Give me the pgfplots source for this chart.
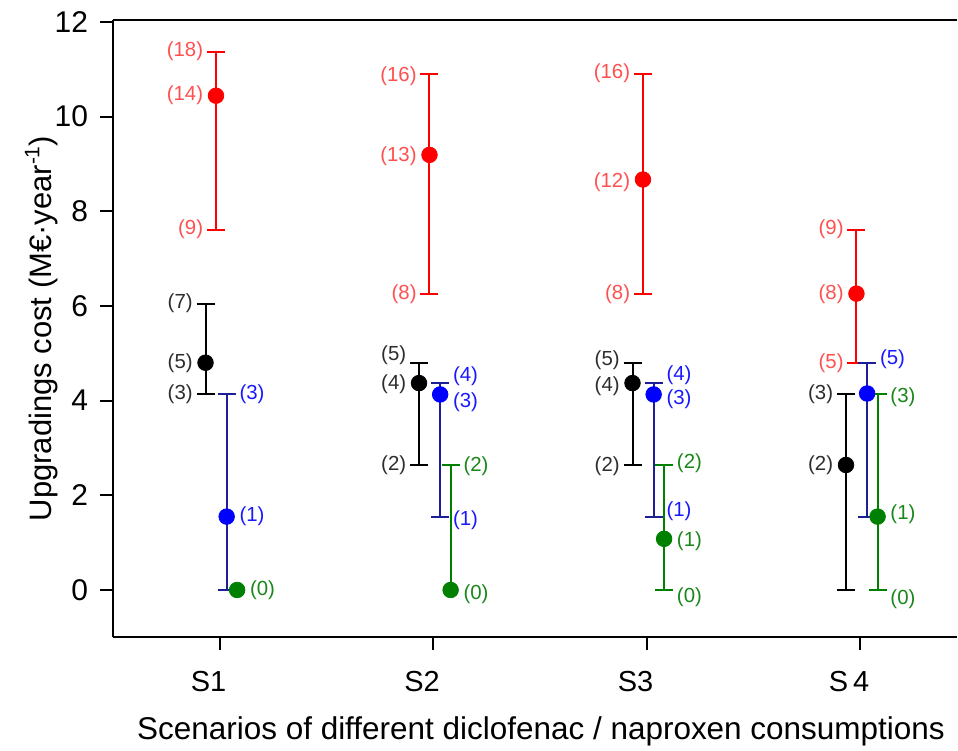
\documentclass[border=0pt]{standalone}
\usepackage{pgfplots}
\pgfplotsset{compat=1.18}
\usepackage{pgfplotstable}
\usepackage{fontspec}
\setmainfont{Liberation Sans}
\definecolor{cRed}{RGB}{255,0,0}
\definecolor{cRedL}{RGB}{255,80,80}
\definecolor{cBlk}{RGB}{0,0,0}
\definecolor{cBlkL}{RGB}{45,45,45}
\definecolor{cBlu}{RGB}{0,0,255}
\definecolor{cBluBar}{RGB}{30,30,150}
\definecolor{cBluL}{RGB}{25,25,255}
\definecolor{cGrn}{RGB}{0,128,0}
\definecolor{cGrnL}{RGB}{25,135,25}

\pgfplotstableread{
x y ep em
0.934 4.80 1.25 0.67
1.934 4.37 0.42 1.73
2.934 4.37 0.42 1.73
3.934 2.64 1.49 2.64
}\blackdata
\pgfplotstableread{
x y ep em
0.983 10.44 0.93 2.83
1.983 9.19 1.71 2.94
2.983 8.67 2.23 2.42
3.983 6.26 1.35 1.46
}\reddata
\pgfplotstableread{
x y ep em
1.033 1.55 2.58 1.55
2.033 4.13 0.24 2.58
3.033 4.13 0.24 2.58
4.033 4.15 0.65 2.60
}\bluedata
\pgfplotstableread{
x y ep em
3.082 1.08 1.56 1.08
4.082 1.55 2.58 1.55
}\greendata
\pgfplotstableread{
x y ep
2.082 0.00 2.64
}\greenplus
\pgfplotstableread{
x y
1.082 0.00
}\greenonly

\pgfplotstableread{
x y t
0.934 6.05 (7)
0.934 4.80 (5)
0.934 4.13 (3)
1.934 4.96 (5)
1.934 4.35 (4)
1.934 2.64 (2)
2.934 4.86 (5)
2.934 4.30 (4)
2.934 2.62 (2)
3.934 4.13 (3)
3.934 2.64 (2)
}\blacklab
\pgfplotstableread{
x y t
0.983 11.37 (18)
0.983 10.44 (14)
0.983 7.61 (9)
1.983 10.85 (16)
1.983 9.17 (13)
1.983 6.25 (8)
2.983 10.92 (16)
2.983 8.62 (12)
2.983 6.25 (8)
3.983 7.61 (9)
3.983 6.24 (8)
3.983 4.78 (5)
}\redlab
\pgfplotstableread{
x y t
1.033 4.13 (3)
1.033 1.55 (1)
2.033 4.52 (4)
2.033 3.97 (3)
2.033 1.48 (1)
3.033 4.53 (4)
3.033 4.02 (3)
3.033 1.67 (1)
4.033 4.88 (5)
}\bluelab
\pgfplotstableread{
x y t
1.082 0.00 (0)
2.082 2.62 (2)
2.082 -0.08 (0)
3.082 2.67 (2)
3.082 1.03 (1)
3.082 -0.15 (0)
4.082 4.07 (3)
4.082 1.60 (1)
4.082 -0.19 (0)
}\greenlab

\begin{document}
\begin{tikzpicture}
\begin{axis}[
  scale only axis, width=422.5pt, height=309pt,
  xmin=0.5, xmax=4.454, ymin=-1, ymax=12.04,
  axis x line*=box, axis y line*=left,
  xtick={1,2,3,4}, xticklabels={S1,S2,S3,S\,4},
  ytick={0,2,4,6,8,10,12},
  xtick pos=bottom, ytick pos=left,
  tick align=outside, major tick length=6.5pt,
  every tick/.style={black, line width=1pt},
  axis line style={line width=1pt},
  /pgf/number format/assume math mode=true,
  yticklabel style={font=\fontsize{15}{15}\selectfont, inner sep=0pt, anchor=east, xshift=-5.75pt},
  xticklabel style={font=\fontsize{14.5}{15}\selectfont, inner sep=0pt, xshift=-5.5pt, yshift=-10.5pt},
  xlabel={Scenarios of different diclofenac / naproxen consumptions},
  ylabel={Upgradings cost (M€·year\raisebox{0.75ex}{\fontsize{10.5}{10}\selectfont -1})},
  every axis x label/.style={at={(axis description cs:0.5071,0)}, anchor=base, inner sep=0pt, yshift=-51pt, font=\fontsize{15.75}{18}\selectfont},
  every axis y label/.style={at={(axis description cs:-0.0725,0.5)}, anchor=base, rotate=90, inner sep=0pt, font=\fontsize{15.5}{18}\selectfont},
  clip=false,
]
% black
\addplot[only marks, mark=*, mark size=3.9pt, color=cBlk, mark options={fill=cBlk, draw=cBlk},
  error bars/.cd, y dir=both, y explicit,
  error bar style={line width=1pt, color=cBlk},
  error mark options={rotate=90, mark size=4.5pt, line width=1pt, color=cBlk}]
  table[x=x, y=y, y error plus=ep, y error minus=em]{\blackdata};
% red
\addplot[only marks, mark=*, mark size=3.9pt, color=cRed, mark options={fill=cRed, draw=cRed},
  error bars/.cd, y dir=both, y explicit,
  error bar style={line width=1pt, color=cRed},
  error mark options={rotate=90, mark size=4.5pt, line width=1pt, color=cRed}]
  table[x=x, y=y, y error plus=ep, y error minus=em]{\reddata};
% blue
\addplot[only marks, mark=*, mark size=3.9pt, color=cBlu, mark options={fill=cBlu, draw=cBlu},
  error bars/.cd, y dir=both, y explicit,
  error bar style={line width=1pt, color=cBluBar},
  error mark options={rotate=90, mark size=4.5pt, line width=1pt, color=cBluBar}]
  table[x=x, y=y, y error plus=ep, y error minus=em]{\bluedata};
% green
\addplot[only marks, mark=*, mark size=3.9pt, color=cGrn, mark options={fill=cGrn, draw=cGrn},
  error bars/.cd, y dir=both, y explicit,
  error bar style={line width=1pt, color=cGrn},
  error mark options={rotate=90, mark size=4.5pt, line width=1pt, color=cGrn}]
  table[x=x, y=y, y error plus=ep, y error minus=em]{\greendata};
\addplot[only marks, mark=*, mark size=3.9pt, color=cGrn, mark options={fill=cGrn, draw=cGrn},
  error bars/.cd, y dir=plus, y explicit,
  error bar style={line width=1pt, color=cGrn},
  error mark options={rotate=90, mark size=4.5pt, line width=1pt, color=cGrn}]
  table[x=x, y=y, y error plus=ep]{\greenplus};
\addplot[only marks, mark=*, mark size=3.9pt, color=cGrn, mark options={fill=cGrn, draw=cGrn}]
  table[x=x, y=y]{\greenonly};
% labels
\addplot[draw=none, mark=none, nodes near coords, point meta=explicit symbolic,
  every node near coord/.style={anchor=east, xshift=-6.25pt, inner sep=0pt, text=cBlkL, font=\fontsize{10.2}{12}\selectfont}]
  table[x=x, y=y, meta=t]{\blacklab};
\addplot[draw=none, mark=none, nodes near coords, point meta=explicit symbolic,
  every node near coord/.style={anchor=east, xshift=-6.25pt, inner sep=0pt, text=cRedL, font=\fontsize{10.2}{12}\selectfont}]
  table[x=x, y=y, meta=t]{\redlab};
\addplot[draw=none, mark=none, nodes near coords, point meta=explicit symbolic,
  every node near coord/.style={anchor=west, xshift=6.25pt, inner sep=0pt, text=cBluL, font=\fontsize{10.2}{12}\selectfont}]
  table[x=x, y=y, meta=t]{\bluelab};
\addplot[draw=none, mark=none, nodes near coords, point meta=explicit symbolic,
  every node near coord/.style={anchor=west, xshift=6.25pt, inner sep=0pt, text=cGrnL, font=\fontsize{10.2}{12}\selectfont}]
  table[x=x, y=y, meta=t]{\greenlab};
\end{axis}
\path ([shift={(-56.5pt,-56.5pt)}]current axis.south west) rectangle ([yshift=10pt]current axis.north east);
\end{tikzpicture}
\end{document}
